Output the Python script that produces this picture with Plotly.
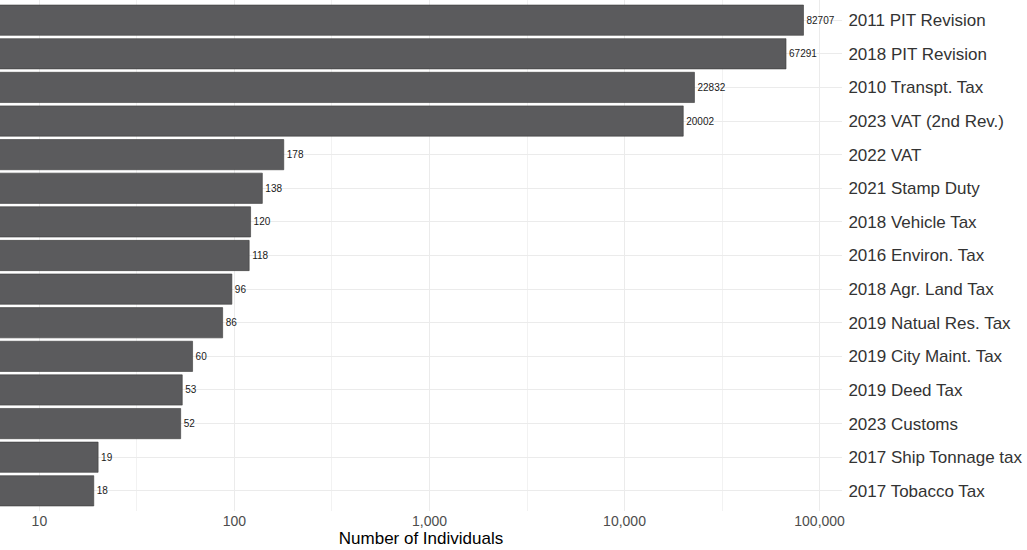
import plotly.graph_objects as go

categories = [
    "2011 PIT Revision", "2018 PIT Revision", "2010 Transpt. Tax",
    "2023 VAT (2nd Rev.)", "2022 VAT", "2021 Stamp Duty", "2018 Vehicle Tax",
    "2016 Environ. Tax", "2018 Agr. Land Tax", "2019 Natual Res. Tax",
    "2019 City Maint. Tax", "2019 Deed Tax", "2023 Customs",
    "2017 Ship Tonnage tax", "2017 Tobacco Tax",
]
values = [82707, 67291, 22832, 20002, 178, 138, 120, 118, 96, 86, 60, 53, 52, 19, 18]

tick_vals = [10, 100, 1000, 10000, 100000]
tick_text = ["10", "100", "1,000", "10,000", "100,000"]
minor_vals = [10 ** 1.5, 10 ** 2.5, 10 ** 3.5, 10 ** 4.5]

FONT = "Liberation Sans, Arial, Helvetica, sans-serif"

fig = go.Figure()
fig.add_trace(go.Bar(
    x=values,
    y=categories,
    orientation="h",
    width=0.9,
    base=1,
    marker=dict(color="#5B5B5D", line=dict(color="#3A3A3A", width=0.6)),
    text=[str(v) for v in values],
    textposition="outside",
    cliponaxis=False,
    textfont=dict(size=10, color="#1A1A1A", family=FONT),
    hoverinfo="x+y",
))

fig.update_layout(
    width=1027,
    height=550,
    margin=dict(l=0, r=185, t=0, b=39),
    paper_bgcolor="white",
    plot_bgcolor="white",
    showlegend=False,
    font=dict(family=FONT, color="#333333"),
    xaxis=dict(
        type="log",
        range=[0.798, 5.115],
        tickvals=tick_vals,
        ticktext=tick_text,
        tickfont=dict(size=14, color="#4D4D4D"),
        showgrid=True,
        gridcolor="#EBEBEB",
        gridwidth=1.1,
        zeroline=False,
        showline=False,
        ticks="",
        minor=dict(tickvals=minor_vals, showgrid=True, gridcolor="#F2F2F2", gridwidth=0.6),
        title=dict(text="Number of Individuals", font=dict(size=17, color="#000000"), standoff=3),
        automargin=False,
    ),
    yaxis=dict(
        type="category",
        categoryorder="array",
        categoryarray=categories,
        range=[len(categories) - 0.4, -0.6],
        side="right",
        tickfont=dict(size=17, color="#333333"),
        showgrid=True,
        gridcolor="#EBEBEB",
        gridwidth=1.1,
        zeroline=False,
        showline=False,
        ticks="outside",
        ticklen=2,
        tickcolor="rgba(0,0,0,0)",
        automargin=False,
    ),
)

fig.write_html(
    "out.html",
    config={"displayModeBar": False},
    post_script="document.body.style.margin='0';document.body.style.padding='0';",
)
